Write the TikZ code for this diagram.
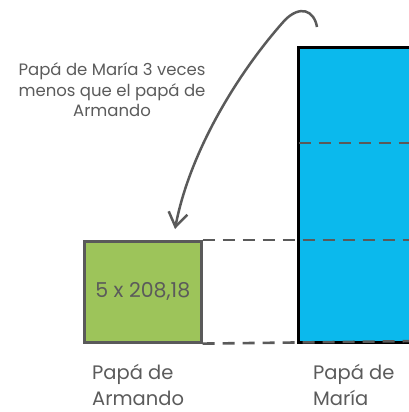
\documentclass[tikz,border=0pt]{standalone}
\usepackage{fontspec}
\setmainfont{Poppins}
\usetikzlibrary{arrows.meta}
\definecolor{txtgray}{HTML}{5B5B5B}
\definecolor{lngray}{HTML}{5A5A5A}
\definecolor{greenfill}{HTML}{9DC45A}
\definecolor{bluefill}{HTML}{0BB9ED}
\tikzset{
  dashline/.style={draw=lngray, line width=2.6pt, dash pattern=on 12pt off 8pt},
  label/.style={text=txtgray, font=\fontsize{19.5}{26}\selectfont, align=left, anchor=north west, inner sep=0pt},
}
\begin{document}
\begin{tikzpicture}[x=1pt,y=-1pt]
\useasboundingbox (0,0) rectangle (409,412);
\begin{scope}
\clip (0,0) rectangle (409,412);
\node[fill=bluefill, draw=black, line width=3pt, minimum width=140pt, minimum height=295pt, anchor=north west, inner sep=0pt] (blue) at (297,46) {};
\draw[dashline] (298.5,143) -- (420,143);
\coordinate (bl1) at (420,240);
\coordinate (bl2) at (420,341);
\end{scope}
\node[fill=greenfill, draw=lngray, line width=2.6pt, minimum width=117pt, minimum height=101pt, anchor=north west, inner sep=0pt, text=txtgray, font=\fontsize{20.5}{24}\selectfont] (green) at (83,240) {5 x 208,18};
\begin{scope}
\clip (0,0) rectangle (409,412);
\draw[dashline] (green.north east) -- (bl1);
\draw[dashline] (green.south east) -- (bl2);
\end{scope}
\node[text=txtgray, font=\fontsize{16.5}{20.5}\selectfont, align=center] (cap) at (112,90) {Papá de María 3 veces\\menos que el papá de\\Armando};
\node[label] (la) at (92,364) {Papá de\\Armando};
\node[label] (lm) at (313,364) {Papá de\\María};
\coordinate (as) at (317,27);
\coordinate (am) at (285,20);
\coordinate (ae) at (175,229);
\draw[draw=lngray, line width=2.5pt, -{Straight Barb[length=14pt,width=19pt,line width=2.5pt]}] (as) .. controls (314,10) and (300,5) .. (am) .. controls (240,70) and (190,150) .. (ae);
\end{tikzpicture}
\end{document}
